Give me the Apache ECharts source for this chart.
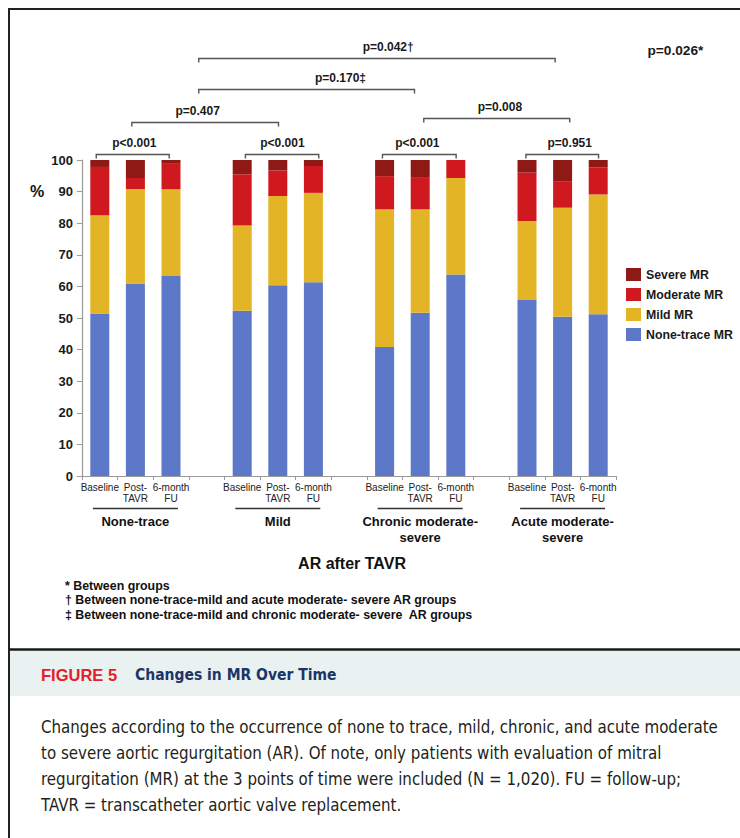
<!DOCTYPE html>
<html>
<head>
<meta charset="utf-8">
<script src="https://cdn.jsdelivr.net/npm/echarts@6/dist/echarts.min.js"></script>
<style>
  html, body { margin: 0; padding: 0; background: #fff; }
  #chart { width: 740px; height: 838px; }
</style>
</head>
<body>
<div id="chart"></div>
<script>
// ---- data ----------------------------------------------------------------
const timePoints = ['Baseline', 'Post-\nTAVR', '6-month\nFU'];
const arGroups = ['None-trace', 'Mild', 'Chronic moderate-\nsevere', 'Acute moderate-\nsevere'];

// percentage of patients per MR grade, 3 time points per AR group
const noneTraceMR = [51.4, 60.9, 63.3,  52.3, 60.4, 61.3,  40.8, 51.7, 63.8,  55.7, 50.4, 51.2];
const mildMR      = [31.1, 29.9, 27.4,  27.0, 28.2, 28.3,  43.6, 32.7, 30.5,  25.0, 34.5, 37.9];
const moderateMR  = [15.3,  3.5,  8.1,  16.2,  8.1,  8.5,  10.5, 10.2,  5.7,  15.3,  8.4,  8.6];
const severeMR    = [ 2.2,  5.7,  1.2,   4.5,  3.3,  1.9,   5.1,  5.4,  0.0,   4.0,  6.7,  2.3];

const yTicks = [0, 10, 20, 30, 40, 50, 60, 70, 80, 90, 100];

// comparison p-values (brackets) and the overall one
const pValues = ['p<0.001', 'p<0.001', 'p<0.001', 'p=0.951', 'p=0.407', 'p=0.008', 'p=0.170\u2021', 'p=0.042\u2020'];
const pOverall = 'p=0.026*';

const footnotes = [
  '* Between groups',
  '\u2020 Between none-trace-mild and acute moderate- severe AR groups',
  '\u2021 Between none-trace-mild and chronic moderate- severe  AR groups'
];
const figureLabel = 'FIGURE 5';
const captionTitle = 'Changes in MR Over Time';
const captionLines = [
  'Changes according to the occurrence of none to trace, mild, chronic, and acute moderate',
  'to severe aortic regurgitation (AR). Of note, only patients with evaluation of mitral',
  'regurgitation (MR) at the 3 points of time were included (N = 1,020). FU = follow-up;',
  'TAVR = transcatheter aortic valve replacement.'
];

// ---- layout of the bracket annotations (band index units / axis values) ---
const bracketLayout = [
  { from: -0.1,  to: 1.95,  level: 101.8, textAt: 0.97 },
  { from: 4.09,  to: 6.15,  level: 101.8, textAt: 5.13 },
  { from: 7.94,  to: 10.01, level: 101.8, textAt: 8.92 },
  { from: 11.97, to: 14.01, level: 101.8, textAt: 13.2 },
  { from: 0.9,   to: 5.02,  level: 112.1, textAt: 2.75 },
  { from: 9.1,   to: 13.2,  level: 113.2, textAt: 11.24 },
  { from: 2.78,  to: 8.84,  level: 122.4, textAt: 6.76 },
  { from: 2.78,  to: 12.79, level: 132.4, textAt: 8.1 }
];
const overallAt = { x: 16.17, level: 134.6 };

// ---- build the category axis: 3 time points per group, one empty slot between groups
const categories = [];
const slotOf = [];            // category index of each data value
arGroups.forEach((g, gi) => {
  if (gi > 0) categories.push('');
  timePoints.forEach(t => { slotOf.push(categories.length); categories.push(t); });
});
function spread(values) {
  const out = categories.map(() => '-');
  values.forEach((v, i) => { out[slotOf[i]] = v; });
  return out;
}
const groupCenter = arGroups.map((g, gi) => slotOf[gi * 3 + 1]);

const FONT = "'Liberation Sans', Arial, Helvetica, sans-serif";
const NARROW = "'Liberation Sans Narrow', 'Arial Narrow', 'DejaVu Sans Condensed', sans-serif";
const colors = {
  none: '#5d78c8',
  mild: '#e3b526',
  moderate: '#d0191e',
  severe: '#8f1a15'
};

function barSeries(name, values, color) {
  return {
    name, type: 'bar', stack: 'mr', data: spread(values),
    barWidth: 19,
    itemStyle: { color },
    emphasis: { disabled: true },
    animation: false
  };
}

const chart = echarts.init(document.getElementById('chart'), null, { renderer: 'svg' });

chart.setOption({
  animation: false,
  textStyle: { fontFamily: FONT },
  grid: { left: 82, top: 160, width: 534, height: 316 },
  legend: {
    orient: 'vertical', left: 621, top: 263,
    itemWidth: 15, itemHeight: 13, itemGap: 7,
    icon: 'rect',
    selectedMode: false,
    data: ['Severe MR', 'Moderate MR', 'Mild MR', 'None-trace MR'],
    textStyle: { fontFamily: FONT, fontWeight: 'bold', fontSize: 12.3, color: '#1a1a1a' }
  },
  xAxis: {
    type: 'category',
    data: categories,
    axisLine: { lineStyle: { color: '#9a9a9a', width: 1.2 } },
    axisTick: { show: true, interval: 0, length: 4, lineStyle: { color: '#9a9a9a' } },
    axisLabel: { interval: 0, fontSize: 10, lineHeight: 11, color: '#222', margin: 6, fontFamily: FONT }
  },
  yAxis: {
    type: 'value', min: 0, max: 100, interval: 10,
    axisLine: { show: true, lineStyle: { color: '#9a9a9a', width: 1.2 } },
    axisTick: { show: true, length: 5, lineStyle: { color: '#9a9a9a' } },
    axisLabel: {
      fontSize: 13, fontWeight: 'bold', color: '#1a1a1a', margin: 9, fontFamily: FONT,
      formatter: v => (yTicks.indexOf(v) >= 0 ? String(v) : '')
    },
    splitLine: { show: false }
  },
  series: [
    barSeries('None-trace MR', noneTraceMR, colors.none),
    barSeries('Mild MR', mildMR, colors.mild),
    barSeries('Moderate MR', moderateMR, colors.moderate),
    barSeries('Severe MR', severeMR, colors.severe),
    {
      // significance brackets, group captions under the axis
      type: 'custom',
      coordinateSystem: 'cartesian2d',
      silent: true,
      clip: false,
      z: 10,
      data: [[0, 0]],
      renderItem(params, api) {
        const band = api.size([1, 0])[0];
        const x0 = api.coord([0, 0])[0];
        const xAt = i => x0 + i * band;
        const yAt = v => api.coord([0, v])[1];
        const children = [];
        bracketLayout.forEach((b, k) => {
          const y = Math.round(yAt(b.level)) + 0.5;
          const xa = xAt(b.from), xb = xAt(b.to);
          children.push({
            type: 'polyline',
            shape: { points: [[xa, y + 4], [xa, y], [xb, y], [xb, y + 4]] },
            style: { stroke: '#555', lineWidth: 1.4, fill: null }
          });
          children.push({
            type: 'text', x: xAt(b.textAt), y: y - 12,
            style: {
              text: pValues[k], fill: '#1a1a1a', font: 'bold 12px ' + FONT,
              textAlign: 'center', textVerticalAlign: 'middle'
            }
          });
        });
        children.push({
          type: 'text', x: xAt(overallAt.x), y: yAt(overallAt.level),
          style: {
            text: pOverall, fill: '#1a1a1a', font: 'bold 13.7px ' + FONT,
            textAlign: 'center', textVerticalAlign: 'middle'
          }
        });
        const base = yAt(0);
        arGroups.forEach((g, gi) => {
          const cx = xAt(groupCenter[gi]);
          const uy = Math.round(base + 31.5) + 0.5;
          children.push({
            type: 'line',
            shape: { x1: cx - 42.5, y1: uy, x2: cx + 42.5, y2: uy },
            style: { stroke: '#333', lineWidth: 1.5 }
          });
          children.push({
            type: 'text', x: cx, y: base + 37,
            style: {
              text: g, fill: '#111', font: 'bold 13px ' + FONT,
              textAlign: 'center', textVerticalAlign: 'top', lineHeight: 16
            }
          });
        });
        return { type: 'group', children };
      }
    }
  ],
  graphic: [
    // frame around the figure and the caption separator
    { type: 'line', shape: { x1: 9, y1: 9, x2: 740, y2: 9 }, style: { stroke: '#222', lineWidth: 2 } },
    { type: 'line', shape: { x1: 9, y1: 8, x2: 9, y2: 838 }, style: { stroke: '#222', lineWidth: 2 } },
    { type: 'rect', shape: { x: 10, y: 650, width: 730, height: 46 }, style: { fill: '#e9f1f1' } },
    { type: 'line', shape: { x1: 9, y1: 649.5, x2: 740, y2: 649.5 }, style: { stroke: '#1a1a1a', lineWidth: 2.5 } },
    // y axis unit
    { type: 'text', x: 37, y: 191, style: { text: '%', font: 'bold 16px ' + FONT, fill: '#111', textAlign: 'center', textVerticalAlign: 'middle' } },
    // x axis title
    { type: 'text', x: 352, y: 563, style: { text: 'AR after TAVR', font: 'bold 16px ' + FONT, fill: '#111', textAlign: 'center', textVerticalAlign: 'middle' } },
    // footnotes
    {
      type: 'text', x: 65, y: 579,
      style: { text: footnotes.join('\n'), font: 'bold 12.4px ' + FONT, fill: '#111', lineHeight: 14.3, textVerticalAlign: 'top' }
    },
    // caption
    {
      type: 'text', x: 41, y: 675,
      style: { text: figureLabel, font: 'bold 16.5px ' + FONT, fill: '#e4202a', textVerticalAlign: 'middle' }
    },
    {
      type: 'text', x: 135, y: 675,
      style: { text: captionTitle, font: 'bold 15.5px ' + NARROW, fill: '#1b3566', textVerticalAlign: 'middle' }
    },
    {
      type: 'text', x: 41, y: 714,
      style: { text: captionLines.join('\n'), font: '16.75px ' + NARROW, fill: '#231f20', lineHeight: 26, textVerticalAlign: 'top' }
    }
  ]
});
</script>
</body>
</html>
